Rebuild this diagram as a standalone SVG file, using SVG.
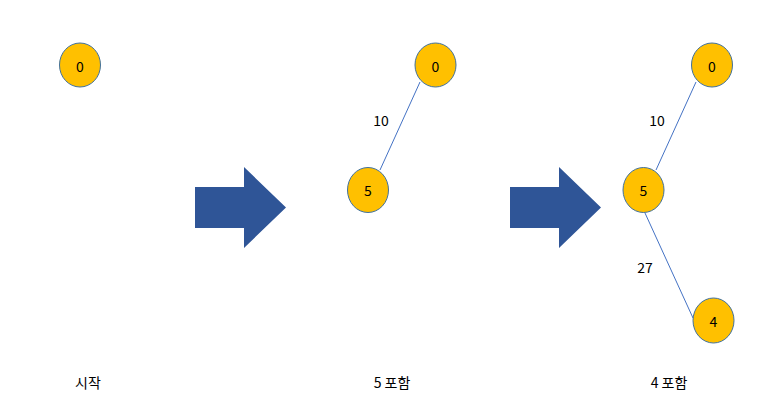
<svg xmlns="http://www.w3.org/2000/svg" width="781" height="420" viewBox="0 0 781 420">
<style>
.node ellipse{fill:#FFC000;stroke:#41719C;stroke-width:1}
text{font-family:"Noto Sans CJK KR","Noto Sans",sans-serif;font-size:14px;fill:#000}
.node text{text-anchor:middle;dominant-baseline:central}
.edge{stroke:#4472C4;stroke-width:1;fill:none}
.arrow{fill:#2F5597}
.lbl{text-anchor:middle}
</style>
<rect width="781" height="420" fill="#fff"/>
<g id="connectors">
<line class="edge" x1="420" y1="82" x2="380" y2="170"/>
<line class="edge" x1="696" y1="82" x2="656" y2="170"/>
<line class="edge" x1="645" y1="213" x2="693" y2="318"/>
</g>
<g id="edge-labels">
<text class="lbl" x="381" y="126">10</text>
<text class="lbl" x="657" y="126">10</text>
<text class="lbl" x="645" y="273">27</text>
</g>
<g id="arrow1"><polygon class="arrow" points="195,187 244,187 244,167 286,207.5 244,248 244,228 195,228"/></g>
<g id="arrow2"><polygon class="arrow" points="510,187 559,187 559,167 601,207.5 559,248 559,228 510,228"/></g>
<g id="n0a" class="node"><ellipse cx="80" cy="65" rx="20.5" ry="22"/><text x="80" y="66">0</text></g>
<g id="n0b" class="node"><ellipse cx="435.5" cy="65" rx="20.5" ry="22"/><text x="435.5" y="66">0</text></g>
<g id="n5b" class="node"><ellipse cx="368" cy="190" rx="20.5" ry="22.5"/><text x="368" y="190">5</text></g>
<g id="n0c" class="node"><ellipse cx="712" cy="65" rx="20.5" ry="22"/><text x="712" y="66">0</text></g>
<g id="n5c" class="node"><ellipse cx="643.5" cy="190" rx="20.5" ry="22.5"/><text x="643.5" y="190">5</text></g>
<g id="n4c" class="node"><ellipse cx="713.5" cy="320.5" rx="20.5" ry="22.5"/><text x="713.5" y="321">4</text></g>
<g id="captions">
<text class="lbl" x="88" y="388">시작</text>
<text class="lbl" x="392" y="388">5 포함</text>
<text class="lbl" x="669" y="388">4 포함</text>
</g>
</svg>
